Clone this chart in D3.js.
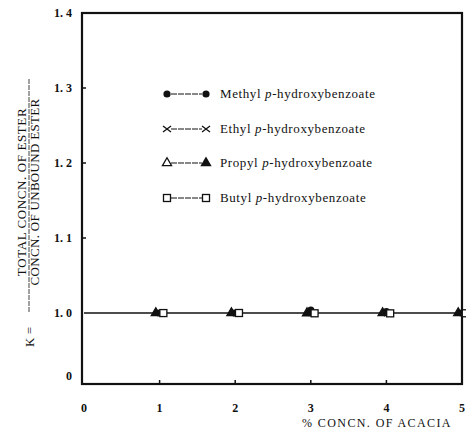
<!DOCTYPE html>
<html>
<head>
<meta charset="utf-8">
<script src="https://cdn.jsdelivr.net/npm/d3@7"></script>
<style>
  body { margin: 0; background: #fff; }
  text { font-family: "Liberation Serif", "DejaVu Serif", serif; fill: #111; }
</style>
</head>
<body>
<div id="chart"></div>
<script>
// acacia concentration (%)
var acacia = [1, 2, 3, 4, 5];
var methyl = [1.0, 1.0, 1.004, 1.002, 1.0];
var ethyl  = [0.999, 0.998, 1.0, 0.998, 1.0];
var propyl = [1.0, 1.0, 0.998, 1.0, 1.0];
var butyl  = [0.999, 1.0, 0.996, 0.995, 0.996];
var xOffsets = [0, 0.02, -0.05, 0.05];
var yTicks = [0, 1.0, 1.1, 1.2, 1.3, 1.4];
var xTicks = [0, 1, 2, 3, 4, 5];
var seriesNames = ["Methyl", "Ethyl", "Propyl", "Butyl"];

var width = 466, height = 431;
var margin = {top: 13, right: 4, bottom: 47, left: 82};

var svg = d3.select("#chart")
  .append("svg")
  .attr("width", width)
  .attr("height", height);

var x = d3.scaleLinear()
  .domain([0, 5])
  .range([margin.left + 2, width - margin.right]);

// broken axis: 0 at bottom, 1.0 - 1.4 above
var y = d3.scaleLinear()
  .domain([0, 1.0, 1.4])
  .range([height - margin.bottom, 313, margin.top]);

// frame
svg.append("rect")
  .attr("x", margin.left)
  .attr("y", margin.top)
  .attr("width", width - margin.right - margin.left)
  .attr("height", height - margin.bottom - margin.top)
  .attr("fill", "none")
  .attr("stroke", "#111")
  .attr("stroke-width", 2.2);

// ticks inward
svg.selectAll(".ytick")
  .data([1.1, 1.2, 1.3])
  .enter().append("line")
    .attr("x1", margin.left).attr("x2", margin.left + 4)
    .attr("y1", function(d) { return y(d); })
    .attr("y2", function(d) { return y(d); })
    .attr("stroke", "#111").attr("stroke-width", 1.5);

svg.selectAll(".xtick")
  .data([1, 2, 3, 4])
  .enter().append("line")
    .attr("x1", function(d) { return x(d); })
    .attr("x2", function(d) { return x(d); })
    .attr("y1", y(0)).attr("y2", y(0) - 4)
    .attr("stroke", "#111").attr("stroke-width", 1.5);

// tick labels
svg.selectAll(".ylab")
  .data(yTicks)
  .enter().append("text")
    .attr("x", 72)
    .attr("y", function(d) { return d === 0 ? y(d) - 4 : y(d) + 4; })
    .attr("text-anchor", "end")
    .attr("font-size", 12)
    .attr("font-weight", "bold")
    .text(function(d) { return d === 0 ? "0" : d.toFixed(1).replace(".", ". "); });

svg.selectAll(".xlab")
  .data(xTicks)
  .enter().append("text")
    .attr("x", function(d) { return x(d); })
    .attr("y", 412)
    .attr("text-anchor", "middle")
    .attr("font-size", 12)
    .attr("font-weight", "bold")
    .text(function(d) { return d; });

svg.append("text")
  .attr("x", 377).attr("y", 427)
  .attr("text-anchor", "middle")
  .attr("font-size", 12)
  .attr("letter-spacing", 1.4)
  .text("% CONCN.  OF  ACACIA");

// y axis title as rotated fraction
var yt = svg.append("g").attr("transform", "translate(28,0) rotate(-90)");
yt.append("text")
  .attr("x", -337).attr("y", 6)
  .attr("text-anchor", "middle")
  .attr("font-size", 13)
  .text("K =");
yt.append("text")
  .attr("x", -192).attr("y", -2)
  .attr("text-anchor", "middle")
  .attr("font-size", 13)
  .attr("letter-spacing", 0.6)
  .text("TOTAL  CONCN. OF ESTER");
yt.append("line")
  .attr("x1", -312).attr("x2", -78)
  .attr("y1", 1).attr("y2", 1)
  .attr("stroke", "#111").attr("stroke-width", 0.8)
  .attr("stroke-dasharray", "5,1");
yt.append("text")
  .attr("x", -192).attr("y", 11)
  .attr("text-anchor", "middle")
  .attr("font-size", 13)
  .attr("letter-spacing", 0.3)
  .text("CONCN. OF UNBOUND ESTER");

// reference line at K = 1.0
svg.append("line")
  .attr("x1", x(0)).attr("x2", x(5))
  .attr("y1", y(1.0)).attr("y2", y(1.0))
  .attr("stroke", "#111").attr("stroke-width", 1.6);

// markers
function drawMarker(g, type, cx, cy, filled) {
  if (type === 0) {
    g.append("circle").attr("cx", cx).attr("cy", cy).attr("r", 3.6).attr("fill", "#111");
  } else if (type === 1) {
    g.append("path")
      .attr("d", "M" + (cx - 4) + "," + (cy - 3) + "L" + (cx + 4) + "," + (cy + 3) +
                 "M" + (cx - 4) + "," + (cy + 3) + "L" + (cx + 4) + "," + (cy - 3))
      .attr("stroke", "#111").attr("stroke-width", 1.3).attr("fill", "none");
  } else if (type === 2) {
    g.append("path")
      .attr("d", d3.symbol().type(d3.symbolTriangle).size(36)())
      .attr("transform", "translate(" + cx + "," + cy + ")")
      .attr("fill", filled ? "#111" : "#fff")
      .attr("stroke", "#111").attr("stroke-width", 1.3);
  } else {
    g.append("rect")
      .attr("x", cx - 3.5).attr("y", cy - 3.5)
      .attr("width", 7).attr("height", 7)
      .attr("fill", "#fff")
      .attr("stroke", "#111").attr("stroke-width", 1.3);
  }
}

var allSeries = [methyl, ethyl, propyl, butyl];
var pts = svg.append("g");
allSeries.forEach(function(vals, si) {
  vals.forEach(function(v, i) {
    drawMarker(pts, si, x(acacia[i] + xOffsets[si]), y(v), true);
  });
});

// legend
var legY = [94, 129, 163, 198];
var leg = svg.append("g");
seriesNames.forEach(function(name, i) {
  var ly = legY[i];
  leg.append("line")
    .attr("x1", 171).attr("x2", 202)
    .attr("y1", ly).attr("y2", ly)
    .attr("stroke", "#111").attr("stroke-width", 1)
    .attr("stroke-dasharray", "6,1");
  drawMarker(leg, i, 167, ly, i !== 2);
  drawMarker(leg, i, 206, ly, true);
  var t = leg.append("text")
    .attr("x", 220).attr("y", ly + 4)
    .attr("font-size", 13)
    .attr("letter-spacing", 0.6);
  t.append("tspan").text(name + " ");
  t.append("tspan").attr("font-style", "italic").text("p");
  t.append("tspan").text("-hydroxybenzoate");
});
</script>
</body>
</html>
